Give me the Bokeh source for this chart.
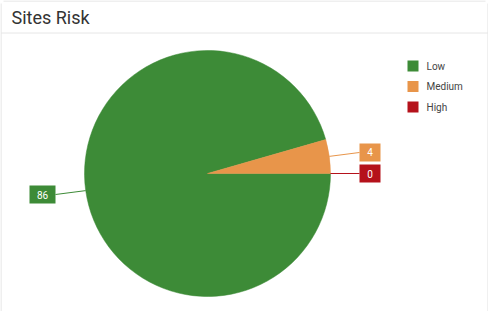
import math
from bokeh.plotting import figure
from bokeh.models import Range1d
from bokeh.core.properties import value
from bokeh.embed import file_html
from bokeh.resources import INLINE

# ---- data ----
categories = ["Low", "Medium", "High"]
counts = [86, 4, 0]
colors = ["#3d8b37", "#e8954a", "#b5121b"]
title_text = "Sites Risk"

W, H = 488, 311
p = figure(width=W, height=H, output_backend="svg", toolbar_location=None,
           x_range=Range1d(0, W), y_range=Range1d(0, H), min_border=0)
p.axis.visible = False
p.grid.visible = False
p.outline_line_color = None
p.background_fill_color = "white"
p.border_fill_color = "white"

def sy(y):  # screen y -> data y
    return H - y

# card borders
p.line([0.5, 0.5], [sy(311), sy(3)], line_color="#e0e0e0", line_width=1)
p.line([3, W - 3], [sy(0.5), sy(0.5)], line_color="#e0e0e0", line_width=1)
p.line([W - 0.5, W - 0.5], [sy(3), sy(311)], line_color="#e0e0e0", line_width=1)
p.line([0.5, W - 0.5], [sy(32.5), sy(32.5)], line_color="#e6e6e6", line_width=1)

# title
p.text(x=[11], y=[sy(17)], text=[title_text], text_font=value("Roboto"),
       text_font_size="18px", text_color="#333333", text_baseline="middle",
       text_align="left")

# ---- pie ----
cx, cy, r = 207, sy(173), 123
total = sum(counts)
# cumulative anticlockwise from 0 rad: High, Medium, Low
order = [2, 1, 0]
start = 0.0
starts, ends, mids = {}, {}, {}
for i in order:
    ang = counts[i] / total * 2 * math.pi
    starts[i] = start
    ends[i] = start + ang
    mids[i] = start + ang / 2
    start += ang

for i in [0, 1, 2]:
    if counts[i] > 0:
        p.wedge(x=cx, y=cy, radius=r, start_angle=starts[i], end_angle=ends[i],
                direction="anticlock", fill_color=colors[i], line_color=colors[i],
                line_width=0.5)

# data labels
for i in [0, 1, 2]:
    m = mids[i]
    ex, ey = cx + r * math.cos(m), cy + r * math.sin(m)
    side = 1 if math.cos(m) >= 0 else -1
    ly = cy + 151 * math.sin(m)
    lx_in = cx + side * 152
    txt = str(counts[i])
    bw = 16 + 5 * len(txt)
    bh = 18
    bxc = lx_in + side * bw / 2
    p.line([ex, lx_in], [ey, ly], line_color=colors[i], line_width=1)
    p.rect(x=[bxc], y=[ly], width=bw, height=bh, fill_color=colors[i],
           line_color=None)
    p.text(x=[bxc], y=[ly], text=[txt], text_font=value("Roboto"),
           text_font_size="10px", text_color="white",
           text_align="center", text_baseline="middle")

# legend
for k, (cat, col) in enumerate(zip(categories, colors)):
    yy = sy(65.5 + k * 20.5)
    p.rect(x=[412.5], y=[yy], width=11, height=11, fill_color=col, line_color=None)
    p.text(x=[426], y=[yy], text=[cat], text_font=value("Roboto"),
           text_font_size="10px", text_color="#444444", text_baseline="middle",
           text_align="left")

open("out.html", "w").write(file_html(p, INLINE))
